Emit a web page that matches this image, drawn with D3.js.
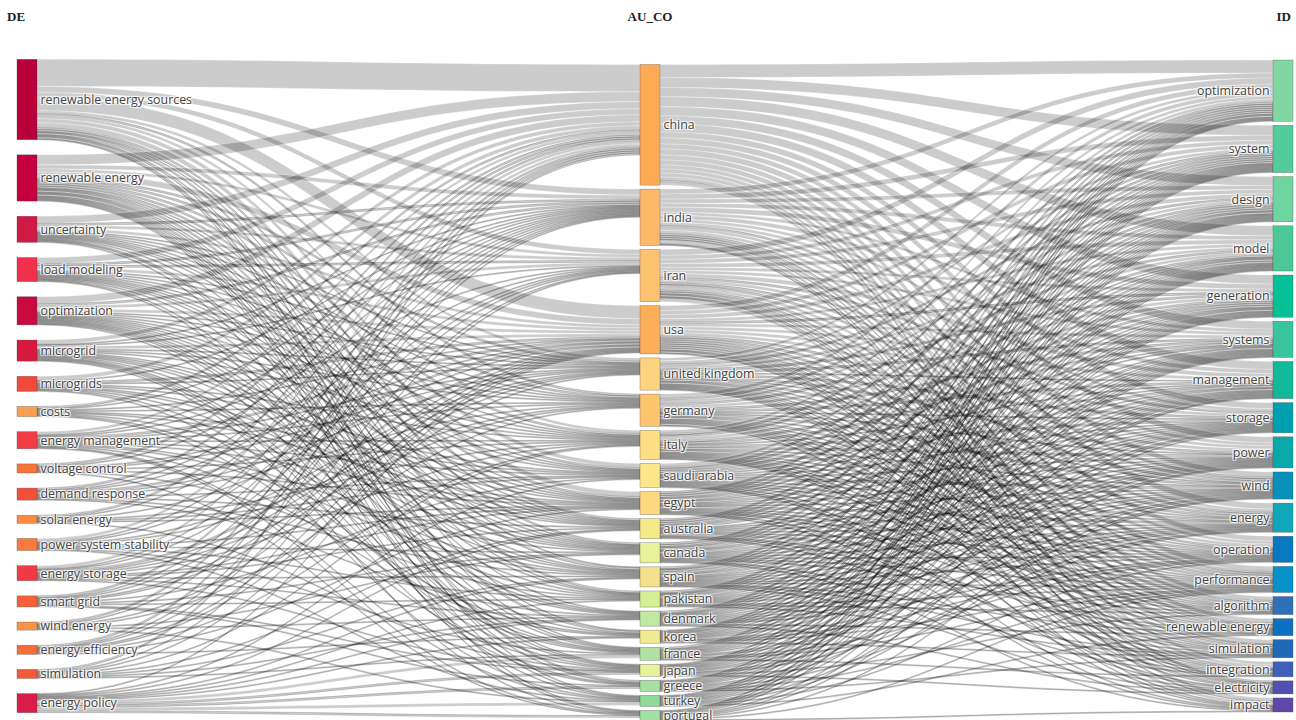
<!DOCTYPE html>
<html lang="en">
<head>
<meta charset="UTF-8">
<title>Three-field plot</title>
<script src="https://d3js.org/d3.v7.min.js"></script>
<style>
  body { margin: 0; background: #fff; }
  svg { font-family: "Open Sans", sans-serif; }
  .node-label {
    font-size: 12.4px;
    fill: #444;
    text-shadow: 1px 1px 1px #fff, -1px -1px 1px #fff, 1px -1px 1px #fff, -1px 1px 1px #fff;
  }
  .field { font-family: "Liberation Serif", serif; font-weight: bold; font-size: 13px; fill: #222; }
</style>
</head>
<body>
<svg id="chart" width="1296" height="720"></svg>
<script>
const fields = ["DE", "AU_CO", "ID"];

const deTerms = ["renewable energy sources", "renewable energy", "uncertainty", "load modeling", "optimization",
  "microgrid", "microgrids", "costs", "energy management", "voltage control", "demand response", "solar energy",
  "power system stability", "energy storage", "smart grid", "wind energy", "energy efficiency", "simulation", "energy policy"];
const deColors = ["#b8003a", "#c4003f", "#d01a45", "#f0304d", "#c80a40", "#d8193f", "#f24a3a", "#fca050", "#f23c45",
  "#f8753a", "#f45038", "#fb8a44", "#f87a3c", "#f03a48", "#f76038", "#fc9448", "#f86b3a", "#f45a38", "#d81e48"];

const countries = ["china", "india", "iran", "usa", "united kingdom", "germany", "italy", "saudi arabia", "egypt",
  "australia", "canada", "spain", "pakistan", "denmark", "korea", "france", "japan", "greece", "turkey", "portugal"];
const countryColors = ["#fdaa55", "#fdb86a", "#fdc270", "#fcae58", "#fed380", "#fdc66e", "#fede85", "#fee58c", "#fdd880",
  "#f5e98a", "#e6f29a", "#f4e28a", "#d5ef92", "#bfe8a0", "#f0ea90", "#b0e3a0", "#e8f29a", "#a6e0a0", "#8fd898", "#a0e0a0"];

const idTerms = ["optimization", "system", "design", "model", "generation", "systems", "management", "storage", "power",
  "wind", "energy", "operation", "performance", "algorithm", "renewable energy", "simulation", "integration", "electricity", "impact"];
const idColors = ["#80d8a0", "#52cc9a", "#6fd4a0", "#4cc898", "#08c096", "#38c49c", "#12b89a", "#00a0b0", "#0aa8a8",
  "#0890b8", "#10a8b8", "#0878c0", "#0890c8", "#3070b8", "#1070c0", "#2068b8", "#4060b8", "#5050b0", "#6048a8"];

// rows: deTerms, columns: countries
const deToCountry = [
  [27,6,5,13,3,2,3,4,5,2,2,1,2,0,1,1,0,2,1,0],
  [10,4,3,6,2,2,2,2,2,1,1,2,1,1,2,1,1,1,1,1],
  [7,2,3,3,1,1,1,1,1,1,1,0,1,0,0,1,1,0,0,1],
  [6,2,2,3,1,1,1,1,1,1,1,1,0,1,0,0,1,0,1,0],
  [7,2,3,3,1,1,1,1,1,1,1,1,1,1,1,1,0,1,0,0],
  [4,1,1,3,1,1,1,0,1,1,1,1,0,1,0,1,1,1,0,1],
  [4,1,0,2,1,0,1,1,0,1,1,0,1,0,0,1,0,0,1,0],
  [2,1,0,1,0,1,0,1,1,0,0,1,0,0,1,0,1,0,0,0],
  [3,1,1,2,1,1,1,1,1,0,1,1,0,0,1,0,0,0,1,1],
  [2,1,0,1,1,0,1,0,1,0,0,0,1,0,0,0,0,0,0,1],
  [2,1,1,2,1,1,0,1,0,1,0,1,0,1,0,0,0,0,0,0],
  [2,1,0,1,0,0,1,1,1,0,0,0,0,0,0,0,1,0,0,0],
  [3,1,1,0,1,1,0,0,1,0,1,0,1,0,0,1,0,0,1,0],
  [3,1,1,2,1,1,1,0,1,1,0,1,0,1,0,0,1,0,0,0],
  [2,1,1,1,1,0,0,1,0,0,1,0,1,0,0,0,1,1,0,0],
  [2,1,0,1,0,1,0,0,0,0,1,0,0,1,0,0,0,0,1,0],
  [2,1,1,1,1,0,1,0,1,0,0,0,0,0,1,0,0,0,0,0],
  [2,0,1,1,0,0,1,0,0,1,0,1,0,1,0,1,0,0,0,0],
  [0,0,0,1,0,0,0,1,0,1,0,1,1,1,1,3,2,2,3,2]
];

// rows: countries, columns: idTerms
const countryToId = [
  [13,10,9,10,9,8,8,6,6,5,6,5,5,4,4,4,3,2,3],
  [5,5,4,4,5,3,4,3,3,2,3,3,2,2,2,1,3,1,1],
  [6,4,4,4,3,3,4,2,3,2,2,3,2,2,1,2,1,1,3],
  [5,4,4,3,2,3,3,3,3,2,2,2,2,2,2,2,1,2,1],
  [3,3,2,3,2,2,1,2,2,1,2,1,2,1,1,1,1,1,1],
  [4,2,3,2,3,2,2,1,1,2,1,2,1,1,1,1,2,0,1],
  [3,2,2,3,2,2,1,2,2,1,2,1,1,1,1,1,1,1,0],
  [3,2,2,2,2,1,1,1,1,2,1,1,1,1,0,1,0,1,1],
  [2,2,2,1,2,1,2,1,1,1,2,1,1,1,1,0,1,0,1],
  [2,2,2,1,2,0,1,1,1,1,1,1,2,0,1,1,0,1,0],
  [2,2,1,2,1,1,2,1,1,1,1,1,1,1,0,0,1,0,1],
  [2,1,2,2,1,2,1,1,1,1,1,1,1,0,1,1,0,1,0],
  [2,1,1,1,2,1,1,1,1,1,1,0,1,1,0,1,0,0,0],
  [2,1,1,1,1,1,1,1,1,1,1,1,0,0,1,0,0,1,0],
  [1,1,1,1,1,1,1,1,1,0,1,1,1,0,0,1,0,0,0],
  [2,1,1,1,1,1,1,0,1,1,0,1,1,0,0,0,1,0,0],
  [1,1,1,1,1,1,1,1,0,1,1,0,0,1,0,0,0,1,0],
  [1,1,1,1,1,1,0,1,1,0,1,0,1,0,0,1,0,0,0],
  [1,1,1,1,1,1,1,0,1,1,0,1,0,0,1,0,0,0,0],
  [1,1,1,1,0,1,1,1,0,1,0,0,1,0,0,0,0,0,1]
];

const width = 1296, height = 720;
const nodeWidth = 20, pad = 4;
const yTop = 60, yBottom = 712;
const colX = d3.scaleLinear().domain([0, 1, 2]).range([17, 640, 1273]);
const colTop = [59.3, 64.5, 60];

const svg = d3.select("#chart");

// nodes
const columns = [
  deTerms.map((name, i) => ({ name, col: 0, color: deColors[i] })),
  countries.map((name, i) => ({ name, col: 1, color: countryColors[i] })),
  idTerms.map((name, i) => ({ name, col: 2, color: idColors[i] }))
];
const nodes = columns.flat();
nodes.forEach(n => { n.sourceLinks = []; n.targetLinks = []; });

const links = [];
deToCountry.forEach((row, i) => row.forEach((v, j) => {
  if (v > 0) links.push({ source: columns[0][i], target: columns[1][j], value: v });
}));
countryToId.forEach((row, i) => row.forEach((v, j) => {
  if (v > 0) links.push({ source: columns[1][i], target: columns[2][j], value: v });
}));
links.forEach(l => { l.source.sourceLinks.push(l); l.target.targetLinks.push(l); });

nodes.forEach(n => {
  n.value = Math.max(d3.sum(n.sourceLinks, l => l.value), d3.sum(n.targetLinks, l => l.value));
});

// vertical scale set by the right-hand column
const ky = (yBottom - yTop - (columns[2].length - 1) * pad) / d3.sum(columns[2], n => n.value);

columns.forEach((col, c) => {
  const total = d3.sum(col, n => n.value) * ky;
  const gap = c === 0 ? (712.7 - colTop[0] - total) / (col.length - 1) : pad;
  let y = colTop[c];
  col.forEach(n => {
    n.x0 = colX(c);
    n.x1 = n.x0 + nodeWidth;
    n.y0 = y;
    n.y1 = y + n.value * ky;
    y = n.y1 + gap;
  });
});

// link stacking
nodes.forEach(n => {
  n.sourceLinks.sort((a, b) => a.target.y0 - b.target.y0);
  n.targetLinks.sort((a, b) => a.source.y0 - b.source.y0);
  let y = n.y0;
  n.sourceLinks.forEach(l => { l.width = l.value * ky; l.y0 = y; y += l.width; });
  y = n.y0;
  n.targetLinks.forEach(l => { l.y1 = y; y += l.value * ky; });
});

function linkPath(l) {
  const x0 = l.source.x1, x1 = l.target.x0;
  const xc = d3.interpolateNumber(x0, x1)(0.5);
  const w = l.width;
  return `M${x0},${l.y0}C${xc},${l.y0} ${xc},${l.y1} ${x1},${l.y1}` +
    `L${x1},${l.y1 + w}C${xc},${l.y1 + w} ${xc},${l.y0 + w} ${x0},${l.y0 + w}Z`;
}

svg.append("g")
  .selectAll("path")
  .data(links)
  .join("path")
  .attr("d", linkPath)
  .attr("fill", "rgba(0,0,0,0.2)")
  .attr("stroke", d => d.value <= 2 ? "rgba(0,0,0,0.35)" : "rgba(255,255,255,0.55)")
  .attr("stroke-width", 0.5);

svg.append("g")
  .selectAll("rect")
  .data(nodes)
  .join("rect")
  .attr("x", d => d.x0)
  .attr("y", d => d.y0)
  .attr("width", nodeWidth)
  .attr("height", d => d.y1 - d.y0)
  .attr("fill", d => d.color)
  .attr("stroke", "rgba(68,68,68,0.6)")
  .attr("stroke-width", 0.5);

svg.append("g")
  .selectAll("text")
  .data(nodes)
  .join("text")
  .attr("class", "node-label")
  .attr("x", d => d.col === 2 ? d.x0 - 3.5 : d.x1 + 3.5)
  .attr("y", d => (d.y0 + d.y1) / 2)
  .attr("dy", "0.35em")
  .attr("text-anchor", d => d.col === 2 ? "end" : "start")
  .text(d => d.name);

svg.append("g")
  .selectAll("text")
  .data(fields)
  .join("text")
  .attr("class", "field")
  .attr("x", (d, i) => i === 0 ? 7 : i === 1 ? colX(1) + nodeWidth / 2 : 1291)
  .attr("y", 21)
  .attr("text-anchor", (d, i) => i === 0 ? "start" : i === 1 ? "middle" : "end")
  .text(d => d);
</script>
</body>
</html>
